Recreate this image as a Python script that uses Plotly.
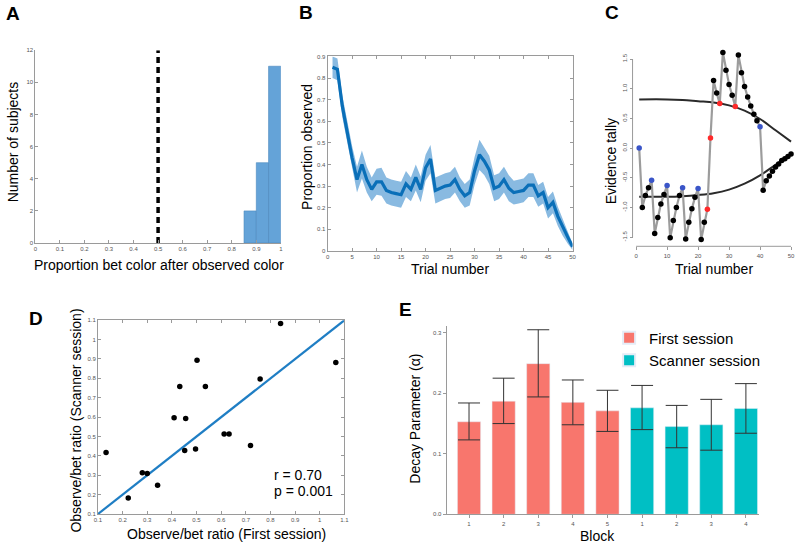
import plotly.graph_objects as go

W, H = 800, 548

# ---------------- data ----------------
# Panel A: histogram of proportion bet color after observed color
hist_edges = [0.85, 0.90, 0.95, 1.00]
hist_counts = [2, 5, 11]
chance_level = 0.5
a_xticks = [0, 0.1, 0.2, 0.3, 0.4, 0.5, 0.6, 0.7, 0.8, 0.9, 1]
a_yticks = [0, 2, 4, 6, 8, 10, 12]

# Panel B: proportion observed by trial (mean and s.e.m.)
trials = list(range(1, 51))
prop_obs = [0.85, 0.84, 0.67, 0.55, 0.43, 0.33, 0.40, 0.33, 0.285, 0.32,
            0.32, 0.28, 0.27, 0.265, 0.26, 0.31, 0.285, 0.34, 0.285, 0.385,
            0.425, 0.28, 0.29, 0.30, 0.305, 0.33, 0.285, 0.255, 0.27, 0.37,
            0.445, 0.415, 0.375, 0.29, 0.30, 0.33, 0.29, 0.27, 0.275, 0.28,
            0.305, 0.305, 0.255, 0.27, 0.20, 0.225, 0.16, 0.11, 0.065, 0.02]
prop_sem = [0.05, 0.05, 0.05, 0.05, 0.055, 0.06, 0.065, 0.06, 0.055, 0.06,
            0.065, 0.06, 0.06, 0.06, 0.06, 0.06, 0.055, 0.06, 0.06, 0.06,
            0.065, 0.06, 0.06, 0.06, 0.06, 0.06, 0.055, 0.055, 0.06, 0.065,
            0.07, 0.065, 0.065, 0.06, 0.06, 0.06, 0.06, 0.055, 0.055, 0.055,
            0.055, 0.055, 0.05, 0.05, 0.05, 0.05, 0.045, 0.04, 0.03, 0.015]
b_xticks = [0, 5, 10, 15, 20, 25, 30, 35, 40, 45, 50]
b_yticks = [0, 0.1, 0.2, 0.3, 0.4, 0.5, 0.6, 0.7, 0.8, 0.9]

# Panel C: evidence tally example
tally = [0.0, -1.0, -0.8, -0.67, -0.54, -1.44, -1.17, -0.94, -0.78, -0.63,
         -1.51, -1.22, -1.0, -0.8, -0.67, -1.53, -1.25, -1.02, -0.83, -0.68,
         -1.54, -1.25, -1.03, 0.17, 1.14, 0.93, 0.75, 1.61, 1.31, 1.07,
         0.89, 0.70, 1.57, 1.27, 1.04, 0.86, 0.71, 0.57, 0.46, 0.36,
         -0.71, -0.55, -0.47, -0.39, -0.32, -0.27, -0.21, -0.18, -0.14, -0.10]
blue_trials = [1, 5, 10, 15, 20, 40]
red_trials = [23, 24, 27, 32]
bound_t = [1, 10, 15, 20, 25, 30, 35, 40, 45, 50]
bound_upper = [0.82, 0.82, 0.81, 0.79, 0.77, 0.72, 0.63, 0.49, 0.30, 0.11]
bound_lower = [-0.82, -0.82, -0.81, -0.79, -0.76, -0.70, -0.60, -0.46, -0.28, -0.10]
c_xticks = [0, 10, 20, 30, 40, 50]
c_yticks = [-1.5, -1.0, -0.5, 0.0, 0.5, 1.0, 1.5]

# Panel D: observe/bet ratio first vs scanner session
ratio_first = [0.133, 0.223, 0.28, 0.30, 0.342, 0.409, 0.432, 0.452, 0.456,
               0.496, 0.502, 0.536, 0.612, 0.632, 0.719, 0.758, 0.841, 1.065]
ratio_scanner = [0.418, 0.183, 0.313, 0.309, 0.248, 0.597, 0.758, 0.428, 0.593,
                 0.435, 0.893, 0.758, 0.513, 0.513, 0.454, 0.797, 1.083, 0.882]
fit_x = [0.1, 1.1]
fit_y = [0.1, 1.1]
d_ticks = [0.1, 0.2, 0.3, 0.4, 0.5, 0.6, 0.7, 0.8, 0.9, 1, 1.1]
d_stats = ["r = 0.70", "p = 0.001"]

# Panel E: decay parameter by block
first_blocks = ["1", "2", "3", "4", "5"]
first_alpha = [0.153, 0.187, 0.249, 0.185, 0.171]
first_hi = [0.184, 0.225, 0.305, 0.222, 0.205]
first_lo = [0.123, 0.150, 0.194, 0.148, 0.137]
scan_blocks = ["1", "2", "3", "4"]
scan_alpha = [0.176, 0.145, 0.148, 0.175]
scan_hi = [0.213, 0.180, 0.190, 0.216]
scan_lo = [0.140, 0.110, 0.106, 0.134]
e_yticks = [0.0, 0.1, 0.2, 0.3]

# ---------------- helpers ----------------
FONT = "Liberation Sans, Arial, Helvetica, sans-serif"
TICKF = dict(family=FONT, size=6, color="#555")
AXC = "#9a9a9a"


def xd(a, b):
    return [a / W, b / W]


def yd(top, bot):
    return [1 - bot / H, 1 - top / H]


def px(x):
    return x / W


def py(y):
    return 1 - y / H


fig = go.Figure()

# ---- A ----
centers = [(hist_edges[i] + hist_edges[i + 1]) / 2 for i in range(len(hist_counts))]
widths = [hist_edges[i + 1] - hist_edges[i] for i in range(len(hist_counts))]
fig.add_trace(go.Bar(x=centers, y=hist_counts, width=widths, xaxis="x", yaxis="y",
                     marker=dict(color="#64a3d8", line=dict(color="#4a88bd", width=0.6)),
                     showlegend=False))
fig.add_trace(go.Scatter(x=[chance_level, chance_level], y=[0, max(a_yticks)],
                         mode="lines", xaxis="x", yaxis="y", showlegend=False,
                         line=dict(color="black", width=3.5, dash="6px,4px")))

# ---- B ----
lower = [m - s for m, s in zip(prop_obs, prop_sem)]
upper = [m + s for m, s in zip(prop_obs, prop_sem)]
fig.add_trace(go.Scatter(x=trials, y=lower, mode="lines", line=dict(width=0, color="rgba(0,0,0,0)"),
                         xaxis="x2", yaxis="y2", showlegend=False, hoverinfo="skip"))
fig.add_trace(go.Scatter(x=trials, y=upper, mode="lines", line=dict(width=0, color="rgba(0,0,0,0)"),
                         fill="tonexty", fillcolor="rgba(40,130,200,0.55)",
                         xaxis="x2", yaxis="y2", showlegend=False, hoverinfo="skip"))
fig.add_trace(go.Scatter(x=trials, y=prop_obs, mode="lines", line=dict(width=3.2, color="#0a6fb8"),
                         xaxis="x2", yaxis="y2", showlegend=False))

# ---- C ----
fig.add_trace(go.Scatter(x=bound_t, y=bound_upper, mode="lines", line=dict(color="#2a2a2a", width=2, shape="spline"),
                         xaxis="x3", yaxis="y3", showlegend=False))
fig.add_trace(go.Scatter(x=bound_t, y=bound_lower, mode="lines", line=dict(color="#2a2a2a", width=2, shape="spline"),
                         xaxis="x3", yaxis="y3", showlegend=False))
pt_colors = ["#3a55c8" if t in blue_trials else ("#ff2a2a" if t in red_trials else "black") for t in trials]
fig.add_trace(go.Scatter(x=trials, y=tally, mode="lines+markers",
                         line=dict(color="#9c9c9c", width=2.2),
                         marker=dict(color=pt_colors, size=5.5),
                         xaxis="x3", yaxis="y3", showlegend=False))

# ---- D ----
fig.add_trace(go.Scatter(x=fit_x, y=fit_y, mode="lines", line=dict(color="#1f7ec4", width=2.2),
                         xaxis="x4", yaxis="y4", showlegend=False))
fig.add_trace(go.Scatter(x=ratio_first, y=ratio_scanner, mode="markers",
                         marker=dict(color="black", size=5.5),
                         xaxis="x4", yaxis="y4", showlegend=False))

# ---- E ----
n1 = len(first_alpha)
pos1 = [i + 1 for i in range(n1)]
pos2 = [n1 + i + 1 for i in range(len(scan_alpha))]
fig.add_trace(go.Bar(x=pos1, y=first_alpha, width=0.67, name="First session",
                     marker=dict(color="#F8766D"), xaxis="x5", yaxis="y5",
                     error_y=dict(type="data", symmetric=False,
                                  array=[h - m for h, m in zip(first_hi, first_alpha)],
                                  arrayminus=[m - l for m, l in zip(first_alpha, first_lo)],
                                  color="#333", thickness=1, width=11)))
fig.add_trace(go.Bar(x=pos2, y=scan_alpha, width=0.67, name="Scanner session",
                     marker=dict(color="#00BFC4"), xaxis="x5", yaxis="y5",
                     error_y=dict(type="data", symmetric=False,
                                  array=[h - m for h, m in zip(scan_hi, scan_alpha)],
                                  arrayminus=[m - l for m, l in zip(scan_alpha, scan_lo)],
                                  color="#333", thickness=1, width=11)))

# ---------------- axes ----------------
common = dict(showgrid=False, zeroline=False, tickfont=TICKF, ticklen=3, tickcolor=AXC,
              linecolor=AXC, linewidth=1)

C_X0, C_PXU = 639.3, 3.134      # pixel of trial 0, pixels per trial
C_Y0, C_PYU = 146.7, 60.0       # pixel of tally 0, pixels per unit

layout = dict(
    width=W, height=H, margin=dict(l=0, r=0, t=0, b=0), autosize=False,
    plot_bgcolor="white", paper_bgcolor="white", barmode="overlay",
    font=dict(family=FONT, color="black"),
    # A
    xaxis=dict(domain=xd(31.7, 280), range=[0, 1], anchor="y", tickvals=a_xticks,
               ticktext=[f"{v:g}" for v in a_xticks], showline=True, ticks="inside", **common),
    yaxis=dict(domain=yd(47.7, 242.7), range=[0, 12], anchor="x", tickvals=a_yticks,
               showline=True, ticks="inside", **common),
    # B
    xaxis2=dict(domain=xd(327.3, 575), range=[0, 50], anchor="y2", tickvals=b_xticks,
                showline=True, mirror="ticks", ticks="inside", **common),
    yaxis2=dict(domain=yd(54, 250.7), range=[0, 0.9], anchor="x2", tickvals=b_yticks,
                ticktext=[f"{v:g}" for v in b_yticks],
                showline=True, mirror="ticks", ticks="inside", **common),
    # C (R-style detached axes)
    xaxis3=dict(domain=xd(637, 799), range=[(637 - C_X0) / C_PXU, (799 - C_X0) / C_PXU],
                anchor="free", position=py(246), tickvals=c_xticks, showline=False,
                ticks="outside", **common),
    yaxis3=dict(domain=yd(44, 243), range=[(C_Y0 - 243) / C_PYU, (C_Y0 - 44) / C_PYU],
                anchor="free", position=px(635.7), tickvals=c_yticks,
                ticktext=[f"{v:.1f}" for v in c_yticks], tickangle=-90,
                showline=False, ticks="outside", **common),
    # D
    xaxis4=dict(domain=xd(95, 344.3), range=[0.1, 1.1], anchor="y4", tickvals=d_ticks,
                ticktext=[f"{v:g}" for v in d_ticks],
                showline=True, mirror="ticks", ticks="inside", **common),
    yaxis4=dict(domain=yd(320.7, 516.7), range=[0.1, 1.1], anchor="x4", tickvals=d_ticks,
                ticktext=[f"{v:g}" for v in d_ticks],
                showline=True, mirror="ticks", ticks="inside", **common),
    # E
    xaxis5=dict(domain=xd(447.7, 763.3), range=[1 - 0.646, 9.37], anchor="y5",
                tickvals=pos1 + pos2, ticktext=first_blocks + scan_blocks,
                showline=True, ticks="outside", **common),
    yaxis5=dict(domain=yd(326.7, 517), range=[0, 0.311], anchor="x5", tickvals=e_yticks,
                ticktext=[f"{v:.1f}" for v in e_yticks],
                showline=True, ticks="outside", **common),
    legend=dict(x=px(612), y=py(322), xanchor="left", yanchor="top", traceorder="normal",
                font=dict(family=FONT, size=15, color="black"), bgcolor="rgba(0,0,0,0)",
                itemsizing="constant", tracegroupgap=0),
)
fig.update_layout(**layout)

# R-style axis lines for panel C
fig.add_shape(type="line", xref="paper", yref="y3", x0=px(635.7), x1=px(635.7), y0=-1.5, y1=1.5,
              line=dict(color=AXC, width=1))
fig.add_shape(type="line", xref="x3", yref="paper", x0=0, x1=50, y0=py(246), y1=py(246),
              line=dict(color=AXC, width=1))

# ---------------- texts ----------------
def ann(text, x, y, size=14, angle=0, bold=False, xanchor="center"):
    fig.add_annotation(text=f"<b>{text}</b>" if bold else text, x=px(x), y=py(y),
                       xref="paper", yref="paper", showarrow=False, textangle=angle,
                       xanchor=xanchor, yanchor="middle",
                       font=dict(family=FONT, size=size, color="black"))

for letter, (lx, ly) in zip("ABCDE", [(9, 11), (305, 10), (615, 10), (32, 319), (406, 310)]):
    ann(letter, lx, ly, size=19, bold=True)

ann("Proportion bet color after observed color", 157, 265, size=14)
ann("Number of subjects", 10, 140, size=14, angle=-90)
ann("Proportion observed", 307, 146, size=14, angle=-90)
ann("Trial number", 451, 269, size=14)
ann("Evidence tally", 614, 160, size=14, angle=-90)
ann("Trial number", 718, 269, size=14)
ann("Observe/bet ratio (First session)", 225, 537, size=14)
ann("Observe/bet ratio (Scanner session)", 73, 422, size=14, angle=-90)
ann(d_stats[0], 271, 477, size=14, xanchor="left")
ann(d_stats[1], 271, 493, size=14, xanchor="left")
ann("Decay Parameter (α)", 416, 420, size=14, angle=-90)
ann("Block", 600, 539, size=14)

fig.write_html("out.html", config={"displayModeBar": False},
               post_script="document.body.style.margin='0';")
